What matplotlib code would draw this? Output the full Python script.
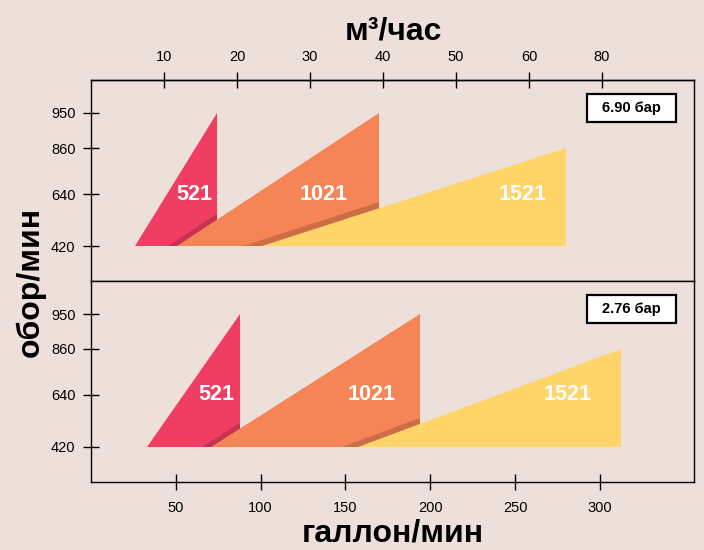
import numpy as np
import matplotlib
matplotlib.use("Agg")
import matplotlib.pyplot as plt
from matplotlib.patches import Polygon, Rectangle
from matplotlib.transforms import Affine2D

plt.rcParams['font.family'] = ['Liberation Sans', 'DejaVu Sans']

# ---------------- data ----------------
pressures = ['6.90 бар', '2.76 бар']
models = ['521', '1021', '1521']
base_rpm = 420
top_rpm = [950, 950, 860]
# flow (gallon/min) at the low-rpm corner and at the right edge, per panel
flow_min = [[25.9, 50.5, 100.6], [33.2, 70.8, 157.4]]
flow_max = [[74.5, 170.0, 280.0], [87.9, 194.2, 312.5]]
label_flow = [[60.7, 137.4, 254.7], [73.7, 165.4, 281.3]]
label_rpm = 640
rpm_ticks = [420, 640, 860, 950]
gpm_ticks = [50, 100, 150, 200, 250, 300]
m3h_ticks = [10, 20, 30, 40, 50, 60, 70]
m3h_labels = ['10', '20', '30', '40', '50', '60', '80']
GPM_PER_M3H = 4.304

# ---------------- style ----------------
BG = '#EDE0DB'
colors = ['#F03E62', '#F58556', '#FFD56A']
TICK_POS = [35.0, 87.0, 133.0, 168.0]   # vertical placement of rpm ticks (px in a 201px panel)
PANEL_H = 201.0


def fwd(r):
    r = np.asarray(r, dtype=float)
    out = np.interp(r, rpm_ticks, TICK_POS)
    s_lo = (TICK_POS[1] - TICK_POS[0]) / (rpm_ticks[1] - rpm_ticks[0])
    s_hi = (TICK_POS[-1] - TICK_POS[-2]) / (rpm_ticks[-1] - rpm_ticks[-2])
    out = np.where(r < rpm_ticks[0], TICK_POS[0] + (r - rpm_ticks[0]) * s_lo, out)
    out = np.where(r > rpm_ticks[-1], TICK_POS[-1] + (r - rpm_ticks[-1]) * s_hi, out)
    return out


def inv(p):
    p = np.asarray(p, dtype=float)
    out = np.interp(p, TICK_POS, rpm_ticks)
    s_lo = (rpm_ticks[1] - rpm_ticks[0]) / (TICK_POS[1] - TICK_POS[0])
    s_hi = (rpm_ticks[-1] - rpm_ticks[-2]) / (TICK_POS[-1] - TICK_POS[-2])
    out = np.where(p < TICK_POS[0], rpm_ticks[0] + (p - TICK_POS[0]) * s_lo, out)
    out = np.where(p > TICK_POS[-1], rpm_ticks[-1] + (p - TICK_POS[-1]) * s_hi, out)
    return out


W, H = 704, 550
fig = plt.figure(figsize=(W / 100, H / 100), dpi=100, facecolor=BG)
L, R = 91, 694
panel_tops = [80, 281]
axes = []
for pt in panel_tops:
    ax = fig.add_axes([L / W, 1 - (pt + PANEL_H) / H, (R - L) / W, PANEL_H / H])
    ax.set_facecolor(BG)
    axes.append(ax)

XMAX = (R - L) / 1.696
SHADOW_PX = 6.0

for p, ax in enumerate(axes):
    ax.set_xlim(0, XMAX)
    ax.set_yscale('function', functions=(fwd, inv))
    ax.set_ylim(float(inv(0.0)), float(inv(PANEL_H)))
    for s in ax.spines.values():
        s.set_linewidth(1.0)
        s.set_color('black')
    ax.set_yticks(rpm_ticks, [str(v) for v in rpm_ticks])
    ax.yaxis.set_minor_locator(matplotlib.ticker.NullLocator())
    ax.tick_params(axis='y', direction='inout', length=11.5, width=1.0,
                   labelsize=10.5, pad=5.5, right=False)

    patches = []
    for i, m in enumerate(models):
        verts = [(flow_min[p][i], base_rpm), (flow_max[p][i], base_rpm),
                 (flow_max[p][i], top_rpm[i])]
        if i > 0:
            p0 = ax.transData.transform((flow_min[p][i], base_rpm))
            p1 = ax.transData.transform((flow_max[p][i], top_rpm[i]))
            slope = (p1[1] - p0[1]) / (p1[0] - p0[0])
            d = SHADOW_PX / slope
            sh = Polygon(verts, closed=True, facecolor='black', alpha=0.17,
                         edgecolor='none',
                         transform=ax.transData + Affine2D().translate(-d, 0),
                         zorder=2 + i - 0.5)
            sh.set_clip_path(patches[i - 1])
            ax.add_patch(sh)
        tri = Polygon(verts, closed=True, facecolor=colors[i], edgecolor='none',
                      zorder=2 + i)
        ax.add_patch(tri)
        patches.append(tri)
        ax.text(label_flow[p][i], label_rpm, m, color='white', fontweight='bold',
                fontsize=15.5, ha='center', va='center', zorder=10)

    ax.add_patch(Rectangle((0.822, 0.79), 0.148, 0.14, transform=ax.transAxes,
                           facecolor='white', edgecolor='black', lw=1.6, zorder=11))
    ax.text(0.896, 0.86, pressures[p], transform=ax.transAxes, ha='center',
            va='center', fontsize=10.5, fontweight='bold', zorder=12)

# top panel: m3/h axis on top
ax_t, ax_b = axes
ax_t.tick_params(axis='x', bottom=False, labelbottom=False, top=False, labeltop=False)
sec = ax_t.secondary_xaxis('top', functions=(lambda g: np.asarray(g) / GPM_PER_M3H,
                                              lambda m: np.asarray(m) * GPM_PER_M3H))
sec.set_xticks(m3h_ticks, m3h_labels)
sec.tick_params(direction='inout', length=11.5, width=1.0, labelsize=10.5, pad=6)
sec.spines['top'].set_linewidth(1.0)

# bottom panel: gallon/min axis
ax_b.set_xticks(gpm_ticks, [str(v) for v in gpm_ticks])
ax_b.tick_params(axis='x', direction='inout', length=11.5, width=1.0,
                 labelsize=10.5, pad=8)

fig.text(393 / W, 1 - 40 / H, 'м³/час', ha='center', va='baseline',
         fontsize=23, fontweight='bold')
fig.text(393 / W, 1 - 542 / H, 'галлон/мин', ha='center', va='baseline',
         fontsize=23, fontweight='bold')
fig.text(31 / W, 1 - 282 / H, 'обор/мин', ha='center', va='center', rotation=90,
         fontsize=23, fontweight='bold')

fig.savefig('out.png', dpi=100, facecolor=BG)
